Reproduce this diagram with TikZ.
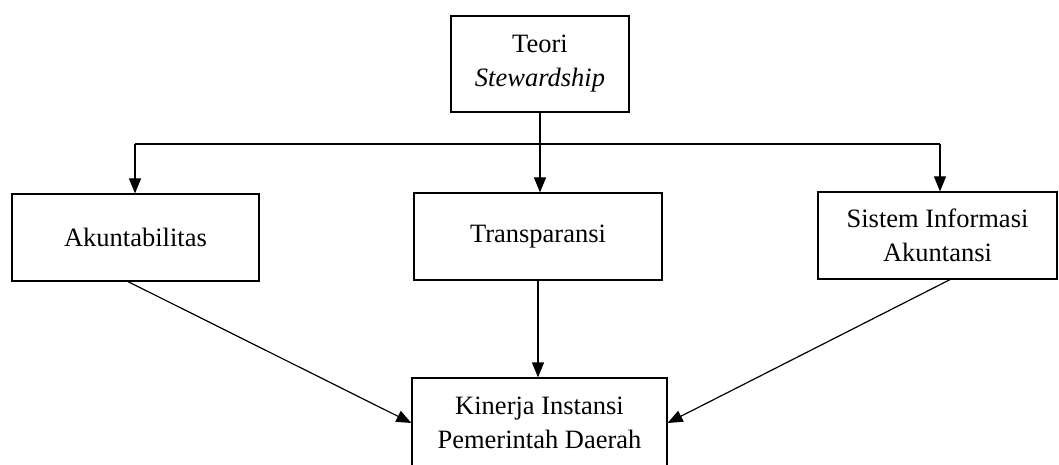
\documentclass[tikz,border=0pt]{standalone}
\usepackage{fontspec}
\setmainfont{Liberation Serif}
\usetikzlibrary{arrows.meta}
\begin{document}
\begin{tikzpicture}[x=1pt,y=-1pt,
  box/.style={draw, line width=1.2pt, rectangle, align=center, inner sep=0pt,
    font=\fontsize{26.5}{34}\selectfont},
  conn/.style={line width=1.2pt},
  arr/.style={line width=1.2pt, -{Triangle[length=15pt,width=12pt]}}]
\useasboundingbox (0,0) rectangle (1059,465);
\node[box, minimum width=178, minimum height=96] (teori) at (540,64) {Teori\\\textit{Stewardship}};
\node[box, minimum width=247, minimum height=87] (akun) at (135.5,237.5) {Akuntabilitas};
\node[box, minimum width=248, minimum height=87] (trans) at (538,236.5) {Transparansi};
\node[box, minimum width=239, minimum height=87] (sis) at (937.5,235.5) {Sistem Informasi\\Akuntansi};
\node[box, minimum width=255, minimum height=90] (kin) at (539.5,423) {Kinerja Instansi\\Pemerintah Daerah};
\coordinate (jL) at (135,144);
\coordinate (jR) at (940,144);
\draw[arr] (teori.south) -- (teori.south |- trans.north);
\draw[conn] (jL) -- (jR);
\draw[arr] (jL) -- (jL |- akun.north);
\draw[arr] (jR) -- (jR |- sis.north);
\draw[arr] ([xshift=-7.5pt]akun.south) -- (kin.west);
\draw[arr] (trans.south) -- (trans.south |- kin.north);
\draw[arr] ([xshift=12.5pt]sis.south) -- (kin.east);
\end{tikzpicture}
\end{document}
